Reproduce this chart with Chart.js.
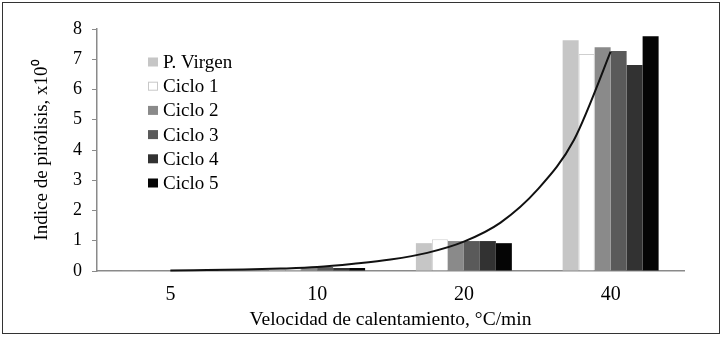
<!DOCTYPE html>
<html>
<head>
<meta charset="utf-8">
<script src="https://cdn.jsdelivr.net/npm/chart.js@4.4.1/dist/chart.umd.min.js"></script>
<style>
html,body{margin:0;padding:0;background:#fff;}
#wrap{position:relative;width:722px;height:337px;}
</style>
</head>
<body>
<div id="wrap"><canvas id="c" width="722" height="337"></canvas></div>
<script>
const categories = ['5', '10', '20', '40'];
const seriesNames = ['P. Virgen', 'Ciclo 1', 'Ciclo 2', 'Ciclo 3', 'Ciclo 4', 'Ciclo 5'];
const pVirgen = [0.02, 0.06, 0.92, 7.63];
const ciclo1  = [0.02, 0.08, 1.05, 7.17];
const ciclo2  = [0.03, 0.12, 0.99, 7.40];
const ciclo3  = [0.03, 0.13, 0.99, 7.27];
const ciclo4  = [0.03, 0.10, 0.99, 6.81];
const ciclo5  = [0.03, 0.10, 0.92, 7.76];
// trend curve; x in category units (1 = "5", 4 = "40")
const trendX = [1, 1.25, 1.5, 1.75, 2, 2.25, 2.5, 2.75, 3, 3.25, 3.5, 3.75, 4];
const trendY = [0.02, 0.03, 0.05, 0.08, 0.13, 0.24, 0.38, 0.6, 0.97, 1.6, 2.68, 4.33, 7.25];
const yTicks = [0, 1, 2, 3, 4, 5, 6, 7, 8];

const fills = ['#c6c6c6', '#ffffff', '#8a8a8a', '#5a5a5a', '#323232', '#050505'];
const borders = ['#c6c6c6', '#cfcfcf', '#8a8a8a', '#5a5a5a', '#323232', '#050505'];
const values = [pVirgen, ciclo1, ciclo2, ciclo3, ciclo4, ciclo5];
const SERIF = '"Liberation Serif", "Times New Roman", serif';

const barSets = seriesNames.map((n, i) => ({
  label: n, data: values[i],
  backgroundColor: fills[i], borderColor: borders[i],
  borderWidth: i === 1 ? 1 : 0,
  barPercentage: 1.0, categoryPercentage: 0.654
}));

const framePlugin = {
  id: 'frame',
  beforeDraw(chart) {
    const ctx = chart.ctx;
    ctx.save();
    ctx.fillStyle = '#fff';
    ctx.fillRect(0, 0, chart.width, chart.height);
    ctx.strokeStyle = '#333';
    ctx.lineWidth = 1;
    ctx.strokeRect(2.5, 2.5, 717, 331);
    ctx.restore();
  }
};
const trendPlugin = {
  id: 'trend',
  afterDatasetsDraw(chart) {
    const xs = chart.scales.x, ys = chart.scales.y, ctx = chart.ctx;
    const pts = trendX.map((x, i) => ({ x: xs.getPixelForValue(x - 1), y: ys.getPixelForValue(trendY[i]) }));
    ctx.save();
    ctx.strokeStyle = '#111';
    ctx.lineWidth = 2;
    ctx.lineJoin = 'round';
    ctx.beginPath();
    ctx.moveTo(pts[0].x, pts[0].y);
    for (let i = 0; i < pts.length - 1; i++) {
      const p0 = pts[Math.max(0, i - 1)], p1 = pts[i], p2 = pts[i + 1], p3 = pts[Math.min(pts.length - 1, i + 2)];
      ctx.bezierCurveTo(p1.x + (p2.x - p0.x) / 6, p1.y + (p2.y - p0.y) / 6,
                        p2.x - (p3.x - p1.x) / 6, p2.y - (p3.y - p1.y) / 6, p2.x, p2.y);
    }
    ctx.stroke();
    ctx.restore();
  }
};
const legendPlugin = {
  id: 'customLegend',
  afterDraw(chart) {
    const ctx = chart.ctx;
    ctx.save();
    ctx.font = '19px ' + SERIF;
    ctx.textBaseline = 'middle';
    const x0 = 148, y0 = 62, step = 24.2;
    seriesNames.forEach((n, i) => {
      const ds = chart.data.datasets[i];
      const yc = y0 + i * step;
      ctx.fillStyle = ds.backgroundColor;
      ctx.fillRect(x0, yc - 4.5, 10, 9);
      if (i === 1) {
        ctx.strokeStyle = '#c8c8c8';
        ctx.lineWidth = 1;
        ctx.strokeRect(x0 + 0.5, yc - 4, 9, 8);
      }
      ctx.fillStyle = '#000';
      ctx.fillText(n, x0 + 15, yc + 1);
    });
    ctx.restore();
  }
};

new Chart(document.getElementById('c'), {
  type: 'bar',
  data: { labels: categories, datasets: barSets },
  options: {
    responsive: false, animation: false,
    layout: { padding: { left: 27, right: 38, top: 29, bottom: 4 } },
    plugins: { legend: { display: false }, tooltip: { enabled: false } },
    scales: {
      x: {
        grid: { display: false, drawTicks: false },
        border: { display: true, color: '#8a8a8a', width: 1.5 },
        ticks: { color: '#000', padding: 12, font: { family: SERIF, size: 20 } },
        title: { display: true, text: 'Velocidad de calentamiento, °C/min', color: '#000',
                 font: { family: SERIF, size: 19.5 }, padding: { top: 0, bottom: 1 } },
        afterFit(s) { s.height = 62; }
      },
      y: {
        min: 0, max: 8,
        afterBuildTicks(s) { s.ticks = yTicks.map(v => ({value: v})); },
        grid: { drawOnChartArea: false, drawTicks: true, tickLength: 5, color: '#8a8a8a' },
        border: { display: true, color: '#8a8a8a', width: 1.5 },
        ticks: { color: '#000', padding: 10, font: { family: SERIF, size: 18 } },
        title: { display: true, text: 'Indice de pirólisis, x10⁰', color: '#000',
                 font: { family: SERIF, size: 19 }, padding: { top: 4, bottom: 0 } },
        afterFit(s) { s.width = 70; }
      }
    }
  },
  plugins: [framePlugin, trendPlugin, legendPlugin]
});
</script>
</body>
</html>
